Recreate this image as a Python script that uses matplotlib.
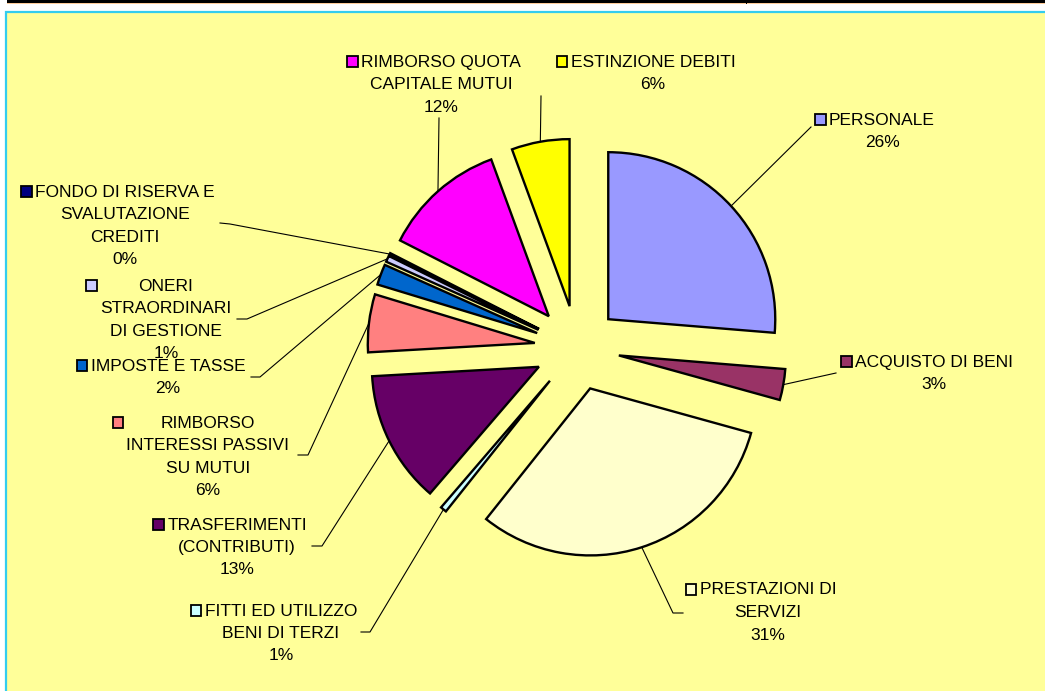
import matplotlib
matplotlib.use('Agg')
import matplotlib.pyplot as plt
from matplotlib.patches import Rectangle
import numpy as np

plt.rcParams['font.family'] = ['Liberation Sans', 'DejaVu Sans']

# ---------------- data ----------------
categories = [
    "PERSONALE",
    "ACQUISTO DI BENI",
    "PRESTAZIONI DI\nSERVIZI",
    "FITTI ED UTILIZZO\nBENI DI TERZI",
    "TRASFERIMENTI\n(CONTRIBUTI)",
    "RIMBORSO\nINTERESSI PASSIVI\nSU MUTUI",
    "IMPOSTE E TASSE",
    "ONERI\nSTRAORDINARI\nDI GESTIONE",
    "FONDO DI RISERVA E\nSVALUTAZIONE\nCREDITI",
    "RIMBORSO QUOTA\nCAPITALE MUTUI",
    "ESTINZIONE DEBITI",
]
values = [26.3, 3.0, 31.4, 0.6, 12.8, 5.6, 2.0, 0.6, 0.2, 11.9, 5.6]
colors = ['#9999FF', '#993366', '#FFFFCC', '#CCFFFF', '#660066', '#FF8080',
          '#0066CC', '#CCCCFF', '#000080', '#FF00FF', '#FFFF00']

# ---------------- layout ----------------
W, H = 1045, 691
pie_center = (577, 348)
pie_radius = 167
explode_dist = 42.5

# label anchors: (center x, first-line y)
label_pos = [(882, 120), (934, 362), (768, 590), (281, 611), (237, 525),
             (208, 423), (168, 366), (166, 286), (125, 192), (441, 62), (653, 62)]
# leader line points after the wedge start point
leader_pts = [
    [(811, 127)],
    [(836, 373)],
    [(673, 613), (683, 613)],
    [(370, 632), (361, 632)],
    [(322, 546), (312, 546)],
    [(308, 455), (298, 455)],
    [(260, 377), (251, 377)],
    [(247, 319), (237, 319)],
    [(230, 224), (220, 223)],
    [(439, 118)],
    [(541, 96)],
]
line_pitch = 22.5
font_size = 12.5

fig = plt.figure(figsize=(W / 100, H / 100), dpi=100)
fig.patch.set_facecolor('white')
ax = fig.add_axes([0, 0, 1, 1])
ax.set_xlim(0, W)
ax.set_ylim(H, 0)
ax.set_aspect('equal')
ax.axis('off')

# top decorations and panel
ax.add_patch(Rectangle((7, 0), W, 3, facecolor='black', edgecolor='none', zorder=1))
ax.add_patch(Rectangle((7, 3), W, 1.2, facecolor='#FFCC99', edgecolor='none', zorder=1))
ax.add_patch(Rectangle((745.5, 0), 1.5, 4, facecolor='black', edgecolor='none', zorder=1))
ax.add_patch(Rectangle((6, 11.5), W + 10, H, facecolor='#FFFF99',
                       edgecolor='#33CCEE', linewidth=1.6, zorder=1))

wedges, _ = ax.pie(values, colors=colors, startangle=-90, counterclock=True,
                   radius=pie_radius, center=pie_center,
                   explode=[explode_dist] * len(values),
                   wedgeprops=dict(edgecolor='black', linewidth=1.7, joinstyle='miter'),
                   frame=True)
for w in wedges:
    w.set_zorder(3)
ax.set_xlim(0, W)
ax.set_ylim(H, 0)
ax.axis('off')

total = sum(values)
fig.canvas.draw()
renderer = fig.canvas.get_renderer()
inv = ax.transData.inverted()

for i, (cat, w) in enumerate(zip(categories, wedges)):
    # leader line from arc midpoint
    mid = np.deg2rad((w.theta1 + w.theta2) / 2)
    cx, cy = w.center
    sx = cx + w.r * np.cos(mid)
    sy = cy + w.r * np.sin(mid)
    pts = [(sx, sy)] + leader_pts[i]
    ax.plot([p[0] for p in pts], [p[1] for p in pts], color='black', lw=0.8, zorder=2)

    lines = cat.split('\n') + [f"{round(values[i] / total * 100):.0f}%"]
    x0, y0 = label_pos[i]
    min_left = 1e9
    for k, ln in enumerate(lines):
        t = ax.text(x0, y0 + k * line_pitch, ln, ha='center', va='center',
                    fontsize=font_size, color='black', zorder=5)
        bb = t.get_window_extent(renderer)
        (l, _), (_, _) = inv.transform([(bb.x0, bb.y0), (bb.x1, bb.y1)])
        min_left = min(min_left, l)
    ks = 10.5
    ax.add_patch(Rectangle((min_left - 3.5 - ks, y0 - ks / 2 - 0.5), ks, ks,
                           facecolor=colors[i], edgecolor='black', linewidth=1.3, zorder=5))

fig.savefig('out.png', dpi=100, facecolor='white')
